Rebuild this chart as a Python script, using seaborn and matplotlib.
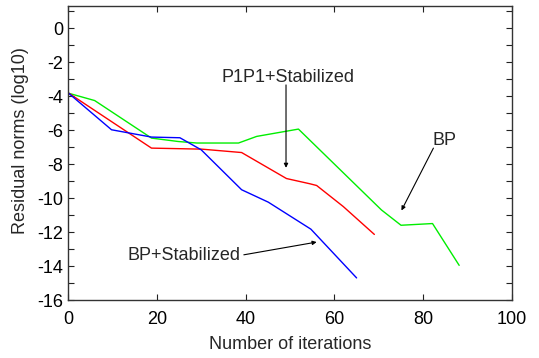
import matplotlib
matplotlib.use("Agg")
import matplotlib.pyplot as plt
import seaborn as sns
import pandas as pd
from matplotlib.ticker import MultipleLocator

# Data
bp_x = [0, 6.0, 18.8, 24.8, 29.0, 38.4, 42.5, 51.9, 70.6, 75.0, 82.1, 88.1]
bp_y = [-3.82, -4.26, -6.47, -6.67, -6.76, -6.76, -6.37, -5.94, -10.7, -11.6, -11.5, -13.96]

p1_x = [0, 18.8, 30.1, 39.1, 49.2, 54.5, 56.0, 62.0, 69.0]
p1_y = [-3.8, -7.06, -7.12, -7.32, -8.85, -9.16, -9.26, -10.5, -12.14]

bps_x = [0, 9.8, 18.8, 25.2, 30.0, 39.1, 45.1, 54.7, 65.0]
bps_y = [-3.8, -5.98, -6.41, -6.45, -7.16, -9.51, -10.24, -11.83, -14.7]

series_names = ["BP", "P1P1+Stabilized", "BP+Stabilized"]
series_colors = ["#00ee00", "#ff0000", "#0000ff"]

x_ticks = [0, 20, 40, 60, 80, 100]
y_ticks = [0, -2, -4, -6, -8, -10, -12, -14, -16]

frames = []
for name, xs, ys in zip(series_names, [bp_x, p1_x, bps_x], [bp_y, p1_y, bps_y]):
    frames.append(pd.DataFrame({"iter": xs, "res": ys, "series": name}))
df = pd.concat(frames, ignore_index=True)

sns.set_style("ticks")
plt.rcParams["font.family"] = ["Liberation Sans", "DejaVu Sans"]
plt.rcParams["axes.unicode_minus"] = False

fig = plt.figure(figsize=(5.39, 3.58), dpi=100)
ax = fig.add_axes([0.1262, 0.162, 0.8237, 0.821])

sns.lineplot(data=df, x="iter", y="res", hue="series", hue_order=series_names,
             palette=dict(zip(series_names, series_colors)), sort=False,
             estimator=None, linewidth=1.0, legend=False, ax=ax)

ax.set_xlim(0, 100)
ax.set_ylim(-16, 1.3)
ax.set_xticks(x_ticks)
ax.set_yticks(y_ticks)
ax.yaxis.set_minor_locator(MultipleLocator(1))
ax.tick_params(which="both", direction="in", top=True, right=True,
               length=4, width=0.8, labelsize=13, colors="#222222",
               labelcolor="black")
ax.tick_params(axis="x", pad=8)
for s in ax.spines.values():
    s.set_linewidth(1.0)
    s.set_color("#333333")

ax.set_xlabel("Number of iterations", fontsize=13, labelpad=6)
ax.set_ylabel("Residual norms (log10)", fontsize=13)
ax.yaxis.set_label_coords(-0.088, 0.544)

arrow = dict(arrowstyle="-|>", color="black", lw=0.8, mutation_scale=6,
             shrinkA=0, shrinkB=0)
ax.annotate("", xy=(49.1, -8.22), xytext=(49.1, -3.34), arrowprops=arrow)
ax.text(49.5, -2.92, "P1P1+Stabilized", fontsize=13, ha="center", va="center")

ax.annotate("", xy=(75.1, -10.73), xytext=(82.3, -7.06), arrowprops=arrow)
ax.text(84.9, -6.63, "BP", fontsize=13, ha="center", va="center")

ax.annotate("", xy=(56.0, -12.59), xytext=(39.6, -13.34), arrowprops=arrow)
ax.text(26.1, -13.4, "BP+Stabilized", fontsize=13, ha="center", va="center")

fig.savefig("out.png", dpi=100)
